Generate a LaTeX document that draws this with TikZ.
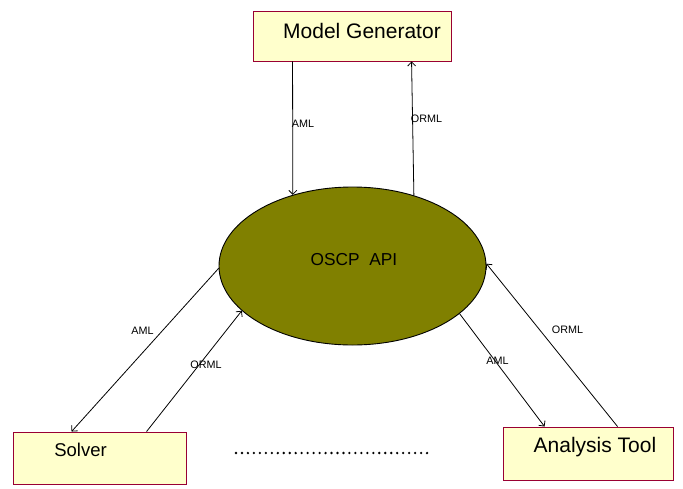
\documentclass[tikz,border=0pt]{standalone}
\usepackage{fontspec}
\setmainfont{Liberation Sans}
\usetikzlibrary{shapes.geometric,arrows.meta,calc}
\definecolor{boxfill}{HTML}{FFFFCC}
\definecolor{boxline}{HTML}{990033}
\definecolor{olive}{HTML}{808000}
\tikzset{
  compbox/.style={draw=boxline, fill=boxfill, line width=0.9pt, inner sep=0pt},
  apiell/.style={ellipse, draw=black, fill=olive, line width=0.9pt, inner sep=0pt, minimum width=267pt, minimum height=158pt},
  boxtext/.style={anchor=base, inner sep=0pt, font=\fontsize{21}{24}\selectfont},
  lbl/.style={anchor=base, inner sep=0pt, font=\fontsize{10.8}{12}\selectfont},
  arr/.style={draw=black, line width=0.8pt, -{Straight Barb[length=4pt,width=8pt]}},
}
\begin{document}
\begin{tikzpicture}[x=1pt,y=-1pt]
\useasboundingbox (0,0) rectangle (683,488);
% boxes
\node[compbox, minimum width=198pt, minimum height=50pt] (mg) at (352,36) {};
\node[compbox, minimum width=173pt, minimum height=52pt] (sol) at (99.5,458) {};
\node[compbox, minimum width=170pt, minimum height=53pt] (at) at (588,453.5) {};
\node[apiell] (api) at (352.5,266) {};
% texts
\node[boxtext] (mgt) at (362,38) {Model Generator};
\node[boxtext, font=\fontsize{18.5}{22}\selectfont] (solt) at (80.5,456) {Solver};
\node[boxtext] (att) at (595,452.7) {Analysis Tool};
\node[anchor=base, inner sep=0pt, font=\fontsize{17.3}{20}\selectfont] (apit) at (354,265) {OSCP\ \ API};
% connector endpoints on boxes
\coordinate (mgA) at ($(mg.south west)+(40,0)$);
\coordinate (mgO) at ($(mg.south west)+(159,0)$);
\coordinate (solA) at ($(sol.north west)+(59,0)$);
\coordinate (solO) at ($(sol.north west)+(134,0)$);
\coordinate (atA) at ($(at.north west)+(42,0)$);
\coordinate (atO) at ($(at.north west)+(115,0)$);
% connectors
\draw[arr] (mgA) -- (api.130.1);
\draw[arr] (api.49.9) -- (mgO);
\draw[arr] (api.181) -- (solA);
\draw[arr] (solO) -- (api.202.3);
\draw[arr] (api.336.4) -- (atA);
\draw[arr] (atO) -- (api.1);
% labels
\node[lbl] (l1) at (303,127) {AML};
\node[lbl] (l2) at (426.5,122) {ORML};
\node[lbl] (l3) at (142.5,334) {AML};
\node[lbl] (l4) at (206,368) {ORML};
\node[lbl] (l5) at (497.5,364) {AML};
\node[lbl] (l6) at (567.5,333) {ORML};
% dotted line
\draw[line width=2.6pt, line cap=round, dash pattern=on 0pt off 5.97pt] (236,453) -- (433,453);
\end{tikzpicture}
\end{document}
